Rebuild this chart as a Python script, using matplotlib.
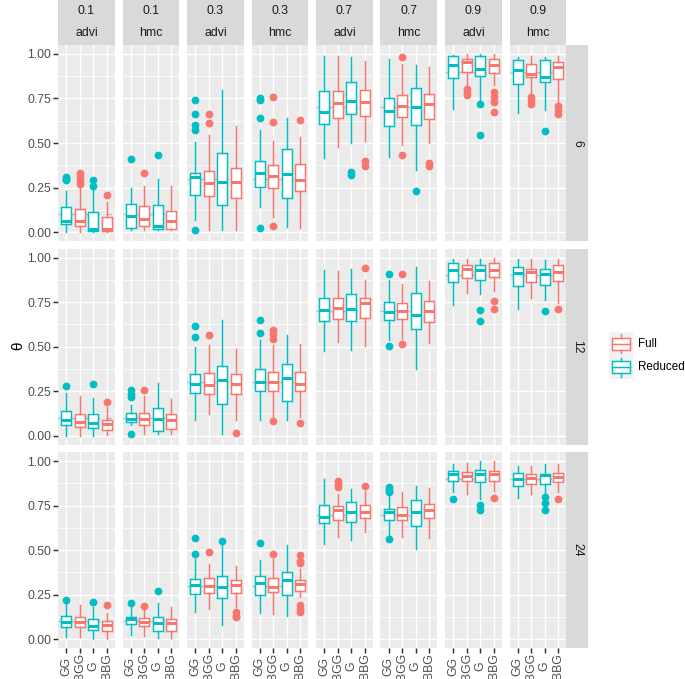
import matplotlib
matplotlib.use("Agg")
import matplotlib.pyplot as plt
import matplotlib.transforms as mtransforms
from matplotlib.patches import Rectangle

plt.rcParams["font.family"] = ["Liberation Sans", "DejaVu Sans"]

# ---- data ----
n_rows = ["6", "12", "24"]
theta_true = [0.1, 0.1, 0.3, 0.3, 0.7, 0.7, 0.9, 0.9]
methods = ["advi", "hmc", "advi", "hmc", "advi", "hmc", "advi", "hmc"]
categories = ["GG", "BGG", "G", "BBG"]
model = ["Reduced", "Full", "Reduced", "Full"]

# [row][panel][box]  box order: GG, BGG, G, BBG
lower_whisker = [
    [[0.0, 0.0, 0.0, 0.0], [0.013, 0.013, 0.01, 0.01], [0.07, 0.013, 0.013, 0.013], [0.14, 0.085, 0.028, 0.022],
     [0.417, 0.48, 0.50, 0.514], [0.42, 0.49, 0.35, 0.50], [0.69, 0.82, 0.74, 0.824], [0.668, 0.77, 0.683, 0.72]],
    [[0.0, 0.0, 0.0, 0.002], [0.058, 0.011, 0.011, 0.011], [0.086, 0.12, 0.011, 0.086], [0.086, 0.105, 0.086, 0.105],
     [0.476, 0.526, 0.48, 0.502], [0.536, 0.54, 0.376, 0.52], [0.736, 0.80, 0.798, 0.813], [0.713, 0.77, 0.76, 0.742]],
    [[0.015, 0.011, 0.0, 0.0], [0.024, 0.019, 0.006, 0.006], [0.155, 0.172, 0.08, 0.18], [0.146, 0.142, 0.133, 0.236],
     [0.536, 0.573, 0.558, 0.60], [0.582, 0.573, 0.507, 0.569], [0.826, 0.816, 0.788, 0.835], [0.794, 0.816, 0.816, 0.826]],
]
lower_hinge = [
    [[0.047, 0.035, 0.005, 0.005], [0.022, 0.034, 0.02, 0.02], [0.21, 0.20, 0.15, 0.19], [0.253, 0.25, 0.193, 0.228],
     [0.604, 0.64, 0.66, 0.654], [0.595, 0.646, 0.60, 0.637], [0.865, 0.90, 0.878, 0.895], [0.833, 0.873, 0.84, 0.858]],
    [[0.062, 0.049, 0.045, 0.034], [0.077, 0.058, 0.024, 0.037], [0.242, 0.236, 0.18, 0.232], [0.25, 0.25, 0.195, 0.25],
     [0.642, 0.657, 0.642, 0.663], [0.652, 0.654, 0.597, 0.639], [0.863, 0.886, 0.873, 0.891], [0.839, 0.86, 0.845, 0.869]],
    [[0.071, 0.067, 0.052, 0.045], [0.086, 0.075, 0.045, 0.045], [0.255, 0.258, 0.232, 0.258], [0.251, 0.264, 0.251, 0.273],
     [0.652, 0.672, 0.657, 0.682], [0.667, 0.667, 0.635, 0.68], [0.886, 0.888, 0.882, 0.888], [0.858, 0.873, 0.873, 0.882]],
]
median = [
    [[0.065, 0.062, 0.017, 0.02], [0.088, 0.075, 0.034, 0.065], [0.31, 0.275, 0.28, 0.28], [0.33, 0.315, 0.324, 0.29],
     [0.675, 0.723, 0.733, 0.73], [0.678, 0.71, 0.70, 0.72], [0.94, 0.955, 0.915, 0.94], [0.908, 0.89, 0.873, 0.927]],
    [[0.09, 0.075, 0.071, 0.064], [0.092, 0.092, 0.092, 0.086], [0.29, 0.286, 0.31, 0.288], [0.30, 0.30, 0.324, 0.288],
     [0.704, 0.717, 0.713, 0.742], [0.695, 0.70, 0.678, 0.70], [0.929, 0.933, 0.929, 0.929], [0.914, 0.916, 0.906, 0.919]],
    [[0.096, 0.096, 0.075, 0.082], [0.114, 0.099, 0.092, 0.092], [0.307, 0.298, 0.292, 0.305], [0.315, 0.296, 0.333, 0.311],
     [0.689, 0.727, 0.717, 0.717], [0.717, 0.695, 0.713, 0.723], [0.929, 0.914, 0.925, 0.925], [0.90, 0.904, 0.92, 0.91]],
]
upper_hinge = [
    [[0.14, 0.13, 0.11, 0.085], [0.16, 0.146, 0.152, 0.12], [0.33, 0.343, 0.446, 0.36], [0.40, 0.375, 0.465, 0.384],
     [0.79, 0.79, 0.845, 0.80], [0.753, 0.768, 0.81, 0.775], [0.99, 0.97, 0.99, 0.973], [0.964, 0.945, 0.968, 0.957]],
    [[0.139, 0.122, 0.124, 0.09], [0.13, 0.13, 0.155, 0.12], [0.348, 0.352, 0.39, 0.348], [0.376, 0.358, 0.40, 0.36],
     [0.775, 0.77, 0.798, 0.773], [0.751, 0.747, 0.80, 0.755], [0.97, 0.96, 0.96, 0.97], [0.948, 0.938, 0.933, 0.957]],
    [[0.129, 0.127, 0.112, 0.10], [0.127, 0.118, 0.124, 0.114], [0.337, 0.343, 0.356, 0.335], [0.354, 0.346, 0.376, 0.33],
     [0.755, 0.747, 0.773, 0.755], [0.732, 0.742, 0.783, 0.757], [0.944, 0.938, 0.951, 0.944], [0.933, 0.925, 0.925, 0.934]],
]
upper_whisker = [
    [[0.23, 0.25, 0.24, 0.17], [0.25, 0.256, 0.30, 0.256], [0.505, 0.543, 0.80, 0.594], [0.575, 0.51, 0.642, 0.534],
     [0.99, 0.99, 0.98, 0.96], [0.974, 0.946, 0.94, 0.927], [0.995, 1.0, 0.998, 1.0], [0.983, 0.987, 0.985, 0.99]],
    [[0.24, 0.22, 0.21, 0.16], [0.17, 0.22, 0.296, 0.204], [0.50, 0.507, 0.648, 0.485], [0.535, 0.51, 0.567, 0.517],
     [0.929, 0.923, 0.938, 0.876], [0.876, 0.85, 0.944, 0.869], [0.994, 0.99, 0.994, 0.997], [0.989, 0.989, 0.985, 0.989]],
    [[0.20, 0.193, 0.183, 0.146], [0.183, 0.165, 0.206, 0.18], [0.451, 0.423, 0.53, 0.414], [0.446, 0.451, 0.528, 0.395],
     [0.897, 0.813, 0.845, 0.831], [0.816, 0.826, 0.863, 0.848], [0.985, 0.989, 0.998, 0.998], [0.972, 0.97, 0.985, 0.981]],
]
outliers = [
    [[[0.31, 0.30, 0.29], [0.33, 0.31, 0.29, 0.27], [0.29, 0.26], [0.21]],
     [[0.41], [0.33], [0.43], []],
     [[0.74, 0.66, 0.60, 0.575, 0.01], [0.665, 0.61], [], []],
     [[0.75, 0.74, 0.64, 0.025], [0.76, 0.62, 0.036], [], [0.627]],
     [[], [], [0.34, 0.32], [0.40, 0.37]],
     [[], [0.98, 0.434], [0.228], [0.39, 0.37]],
     [[], [0.805, 0.78, 0.77], [0.717, 0.543], [0.786, 0.758, 0.73, 0.674]],
     [[], [0.758, 0.74, 0.717], [0.57], [0.706, 0.683, 0.665]]],
    [[[0.28], [], [0.29], [0.19]],
     [[0.255, 0.236, 0.217, 0.011], [0.258], [], []],
     [[0.618, 0.554], [0.564], [], [0.015]],
     [[0.652, 0.577], [0.595, 0.573, 0.541, 0.084], [], [0.071]],
     [[], [], [], [0.942]],
     [[0.905, 0.502], [0.91, 0.513], [], []],
     [[], [], [0.708, 0.642], [0.755, 0.713]],
     [[], [], [0.698], [0.713]]],
    [[[0.223], [], [0.212], [0.19]],
     [[0.204], [0.185], [0.27], []],
     [[0.569, 0.479], [0.489], [0.552], [0.152, 0.133, 0.124]],
     [[0.539], [0.479], [], [0.474, 0.438, 0.427, 0.19, 0.17, 0.155]],
     [[], [0.891, 0.87, 0.854], [], [0.86]],
     [[0.854, 0.84, 0.826, 0.564], [], [], []],
     [[0.788], [], [0.755, 0.727], [0.792]],
     [[], [], [0.798, 0.764, 0.727], [0.785]]],
]

colors = {"Full": "#F8766D", "Reduced": "#00BFC4"}

# ---- layout in pixels ----
W, H = 685, 679
fig = plt.figure(figsize=(W / 100, H / 100), dpi=100)


def fbox(left, top, width, height):
    return [left / W, 1 - (top + height) / H, width / W, height / H]


panel_w, panel_h = 56.9, 196.0
col_lefts = [58 + i * (panel_w + 7.6) for i in range(8)]
row_tops = [45 + r * (panel_h + 7.6) for r in range(3)]
strip_h, strip_w = 45, 22
lw = 1.07

for r in range(3):
    for c in range(8):
        ax = fig.add_axes(fbox(col_lefts[c], row_tops[r], panel_w, panel_h))
        ax.set_facecolor("#EBEBEB")
        for s in ax.spines.values():
            s.set_visible(False)
        ax.set_xlim(0.4, 4.6)
        ax.set_ylim(-0.05, 1.05)
        for yv in [0.125, 0.375, 0.625, 0.875]:
            ax.axhline(yv, color="white", lw=0.53, zorder=0.5)
        for yv in [0, 0.25, 0.5, 0.75, 1.0]:
            ax.axhline(yv, color="white", lw=lw, zorder=0.6)
        for xv in range(1, 5):
            ax.axvline(xv, color="white", lw=lw, zorder=0.6)
        ax.axhline(theta_true[c], color="#BEBEBE", lw=lw, ls=(0, (4, 4)), zorder=1)

        for j in range(4):
            col = colors[model[j]]
            st = dict(med=median[r][c][j], q1=lower_hinge[r][c][j], q3=upper_hinge[r][c][j],
                      whislo=lower_whisker[r][c][j], whishi=upper_whisker[r][c][j],
                      fliers=outliers[r][c][j])
            ax.bxp([st], positions=[j + 1], widths=0.75, patch_artist=True, showcaps=False,
                   manage_ticks=False, zorder=3,
                   boxprops=dict(facecolor="white", edgecolor=col, linewidth=lw),
                   medianprops=dict(color=col, linewidth=2 * lw, solid_capstyle="butt"),
                   whiskerprops=dict(color=col, linewidth=lw),
                   flierprops=dict(marker="o", markerfacecolor=col, markeredgecolor=col,
                                   markersize=4.6))

        ax.set_yticks([0, 0.25, 0.5, 0.75, 1.0])
        ax.set_xticks([1, 2, 3, 4])
        ax.tick_params(length=3.8, width=lw, color="#333333", labelcolor="#4D4D4D",
                       labelsize=8.8, pad=1.2)
        ax.set_xticklabels([])
        if c == 0:
            ax.set_yticklabels(["0.00", "0.25", "0.50", "0.75", "1.00"])
        else:
            ax.tick_params(axis="y", length=0)
            ax.set_yticklabels([])
        if r < 2:
            ax.tick_params(axis="x", length=0)
        else:
            tr = mtransforms.blended_transform_factory(ax.transData, fig.transFigure)
            for j, cat in enumerate(categories):
                fig.text(j + 1, 1 - 666 / H, cat, transform=tr, rotation=90,
                         ha="center", va="center", size=8.8, color="#4D4D4D")

        # top strips
        if r == 0:
            sax = fig.add_axes(fbox(col_lefts[c], 0, panel_w, strip_h))
            sax.set_facecolor("#D9D9D9")
            sax.set_xticks([])
            sax.set_yticks([])
            for s in sax.spines.values():
                s.set_visible(False)
            sax.text(0.5, 1 - 11.5 / strip_h, f"{theta_true[c]:g}", transform=sax.transAxes,
                     ha="center", va="center", size=8.8, color="#1A1A1A")
            sax.text(0.5, 1 - 33.5 / strip_h, methods[c], transform=sax.transAxes,
                     ha="center", va="center", size=8.8, color="#1A1A1A")

    # right strips
    rax = fig.add_axes(fbox(col_lefts[-1] + panel_w, row_tops[r], strip_w, panel_h))
    rax.set_facecolor("#D9D9D9")
    rax.set_xticks([])
    rax.set_yticks([])
    for s in rax.spines.values():
        s.set_visible(False)
    rax.text(0.5, 0.5, n_rows[r], transform=rax.transAxes, rotation=-90,
             ha="center", va="center", size=8.8, color="#1A1A1A")

# y axis title
fig.text(18 / W, 1 - 346 / H, "θ", rotation=90, ha="center", va="center", size=11)

# legend
key = 23.5
for k, name in enumerate(["Full", "Reduced"]):
    top = 332 + k * key
    kax = fig.add_axes(fbox(609, top, key, key))
    kax.set_xlim(0, 1)
    kax.set_ylim(0, 1)
    kax.set_facecolor("#F2F2F2")
    kax.set_xticks([])
    kax.set_yticks([])
    for s in kax.spines.values():
        s.set_visible(False)
    col = colors[name]
    kax.add_patch(Rectangle((0.125, 0.25), 0.75, 0.5, facecolor="white", edgecolor=col, lw=lw))
    kax.plot([0.5, 0.5], [0.1, 0.25], color=col, lw=lw)
    kax.plot([0.5, 0.5], [0.75, 0.9], color=col, lw=lw)
    kax.plot([0.125, 0.875], [0.5, 0.5], color=col, lw=lw)
    fig.text(638 / W, 1 - (top + key / 2) / H, name, ha="left", va="center", size=8.4,
             color="black")

fig.savefig("out.png", dpi=100)
